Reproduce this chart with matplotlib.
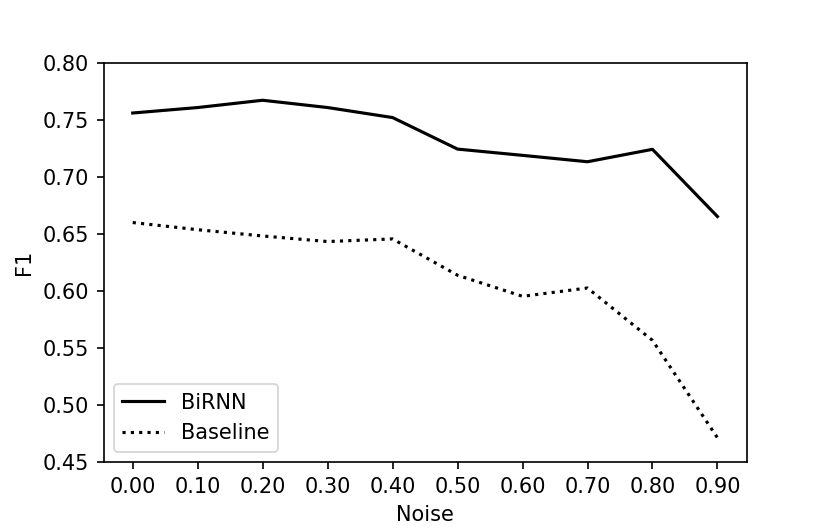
import matplotlib
matplotlib.use("Agg")
import matplotlib.pyplot as plt
from matplotlib.ticker import FormatStrFormatter

noise = [0.0, 0.1, 0.2, 0.3, 0.4, 0.5, 0.6, 0.7, 0.8, 0.9]
birnn = [0.7565, 0.7613, 0.7677, 0.7613, 0.7525, 0.7248, 0.7193, 0.7137, 0.7246, 0.6656]
baseline = [0.6603, 0.6540, 0.6485, 0.6436, 0.6459, 0.6140, 0.5955, 0.6028, 0.5568, 0.4713]

s = 1.16
plt.rcParams.update({
    "font.size": 10 * s,
    "lines.linewidth": 1.5 * s,
    "axes.linewidth": 0.8 * s,
    "xtick.major.size": 3.5 * s,
    "ytick.major.size": 3.5 * s,
    "xtick.major.width": 0.8 * s,
    "ytick.major.width": 0.8 * s,
    "xtick.major.pad": 3.5 * s,
    "ytick.major.pad": 3.5 * s,
    "axes.labelpad": 4.0 * s,
})

dpi = 130
fig = plt.figure(figsize=(830 / dpi, 529 / dpi), dpi=dpi)
ax = fig.add_axes([0.1247, 0.1267, 0.8996 - 0.1247, 0.880 - 0.1267])

ax.plot(noise, birnn, color="black", linestyle="-", label="BiRNN")
ax.plot(noise, baseline, color="black", linestyle=":", label="Baseline")

ax.set_ylim(0.45, 0.80)
ax.set_xticks(noise)
ax.xaxis.set_major_formatter(FormatStrFormatter("%.2f"))
ax.yaxis.set_major_formatter(FormatStrFormatter("%.2f"))
ax.set_xlabel("Noise")
ax.set_ylabel("F1")
ax.legend(loc="lower left")

fig.savefig("out.png", dpi=dpi)
